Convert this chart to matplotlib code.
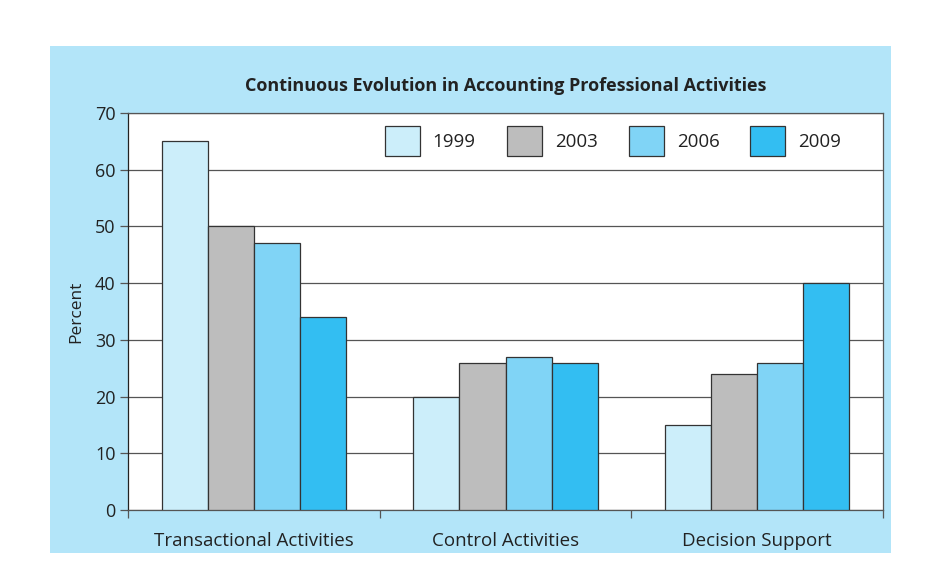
import matplotlib
matplotlib.use("Agg")
import matplotlib.pyplot as plt
import numpy as np

categories = ["Transactional Activities", "Control Activities", "Decision Support"]
years = ["1999", "2003", "2006", "2009"]
values = {
    "1999": [65, 20, 15],
    "2003": [50, 26, 24],
    "2006": [47, 27, 26],
    "2009": [34, 26, 40],
}
colors = ["#CCEEFA", "#BDBDBD", "#80D4F6", "#33BEF2"]
yticks = [0, 10, 20, 30, 40, 50, 60, 70]

plt.rcParams['font.family'] = ['Open Sans', 'DejaVu Sans']

fig = plt.figure(figsize=(9.3, 5.72), dpi=100)
fig.patch.set_facecolor("white")
bg = fig.add_axes([50/930, 19/572, 841/930, 507/572], zorder=-10)
bg.set_facecolor("#B3E5F9")
bg.set_xticks([]); bg.set_yticks([])
for s in bg.spines.values():
    s.set_visible(False)

ax = fig.add_axes([128/930, 1-510/572, 755/930, 397/572], zorder=1)
ax.set_facecolor("white")

x = np.arange(len(categories))
bw = 0.183
for i, (yr, c) in enumerate(zip(years, colors)):
    ax.bar(x + (i - 1.5) * bw, values[yr], width=bw, color=c, edgecolor="#333333",
           linewidth=0.9, label=yr, zorder=3)

ax.set_xlim(-0.5, 2.5)
ax.set_ylim(0, 70)
ax.set_yticks(yticks)
ax.yaxis.grid(True, color="#555555", linewidth=0.9, zorder=0)
ax.set_axisbelow(True)
ax.tick_params(axis='y', labelsize=13, colors="#222222", length=6, width=0.9, color="#555555", pad=3)
ax.set_xticks([-0.5, 0.5, 1.5, 2.5])
ax.set_xticklabels([])
ax.set_xticks(x, minor=True)
ax.set_xticklabels(categories, minor=True, fontsize=13.5, color="#222222")
ax.tick_params(axis='x', which='major', length=6, width=0.9, color="#555555")
ax.tick_params(axis='x', which='minor', length=0, pad=16)
for s in ax.spines.values():
    s.set_color("#555555")
    s.set_linewidth(0.9)
ax.spines['left'].set_color("#222222")
ax.set_ylabel("Percent", fontsize=12.5, color="#222222", labelpad=8)

fig.text(505.5/930, 1-86/572, "Continuous Evolution in Accounting Professional Activities",
         ha="center", va="center", fontsize=13, fontweight="bold", color="#222222")

leg = ax.legend(ncol=4, frameon=False, loc="center left", bbox_to_anchor=((377-128)/755, (510-141)/397),
                fontsize=13.5, handlelength=1.87, handleheight=2.08, handletextpad=0.7,
                columnspacing=1.65, borderaxespad=0)
for t in leg.get_texts():
    t.set_color("#222222")

fig.savefig("out.png", dpi=100)
